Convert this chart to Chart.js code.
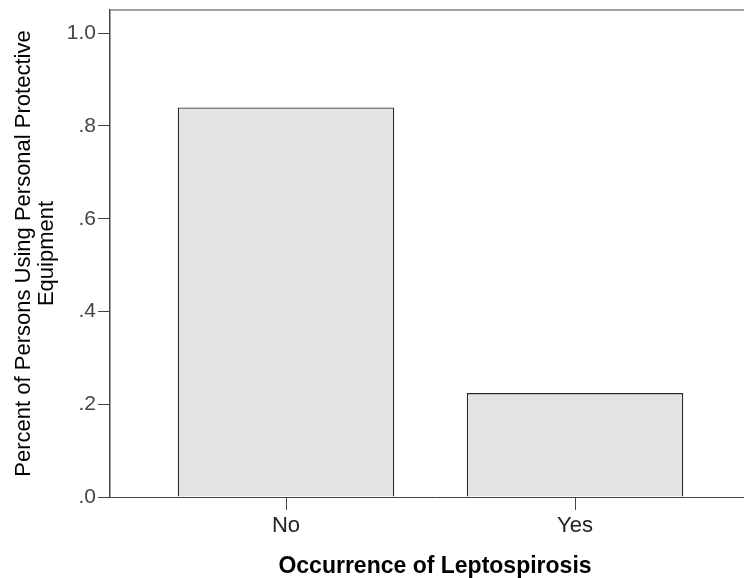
<!DOCTYPE html>
<html>
<head>
<meta charset="utf-8">
<script src="https://cdn.jsdelivr.net/npm/chart.js@4"></script>
<style>
  html, body { margin: 0; padding: 0; background: #fff; overflow: hidden; }
  #wrap { width: 744px; height: 578px; overflow: hidden; }
</style>
</head>
<body>
<div id="wrap"><canvas id="stage" width="760" height="578"></canvas></div>
<script>
const categories = ['No', 'Yes'];
const percentUsingPPE = [0.840, 0.224];
const yTickValues = [0, 0.2, 0.4, 0.6, 0.8, 1.0];
const yTickLabels = ['.0', '.2', '.4', '.6', '.8', '1.0'];

const fontFamily = '"Liberation Sans", Arial, sans-serif';
const axisColor = '#444';

// grey line along the top of the plot frame
const topFrame = {
  id: 'topFrame',
  afterDraw(chart) {
    const {ctx, chartArea} = chart;
    ctx.save();
    ctx.strokeStyle = '#858585';
    ctx.lineWidth = 1.5;
    ctx.beginPath();
    ctx.moveTo(chartArea.left, chartArea.top);
    ctx.lineTo(chartArea.right, chartArea.top);
    ctx.stroke();
    ctx.restore();
  }
};

new Chart(document.getElementById('stage'), {
  type: 'bar',
  data: {
    datasets: [{
      data: categories.map((c, i) => ({x: i, y: percentUsingPPE[i]})),
      backgroundColor: '#e3e3e3',
      borderColor: '#2a2a2a',
      borderWidth: 1.3,
      categoryPercentage: 1,
      barPercentage: 0.749
    }]
  },
  options: {
    responsive: false,
    animation: false,
    layout: { padding: { top: 10, left: 0, right: 0, bottom: 0 } },
    plugins: { legend: { display: false }, tooltip: { enabled: false } },
    scales: {
      x: {
        type: 'linear',
        offset: false,
        min: -0.609,
        max: 1.640,
        afterBuildTicks: s => { s.ticks = categories.map((c, i) => ({value: i})); },
        afterFit: s => { s.height = 81; },
        ticks: {
          callback: v => categories[v],
          color: '#222',
          font: { family: fontFamily, size: 22 },
          padding: 3,
          maxRotation: 0
        },
        grid: { offset: false, drawOnChartArea: false, tickLength: 13, color: axisColor },
        border: { color: axisColor, width: 1 },
        title: {
          display: true,
          text: 'Occurrence of Leptospirosis',
          color: '#000',
          font: { family: fontFamily, size: 23, weight: 'bold', lineHeight: 1 },
          padding: { top: 0, bottom: 0 }
        }
      },
      y: {
        min: 0,
        max: 1.050,
        afterBuildTicks: s => { s.ticks = yTickValues.map(v => ({value: v})); },
        afterFit: s => { s.width = 110; s.paddingTop = 0; s.paddingBottom = 0; },
        ticks: {
          callback: (v, i) => yTickLabels[i],
          color: '#444',
          font: { family: fontFamily, size: 21 },
          padding: 2
        },
        grid: { drawOnChartArea: false, tickLength: 12, color: axisColor },
        border: { color: axisColor, width: 1.5 },
        title: {
          display: true,
          text: ['Percent of Persons Using Personal Protective', 'Equipment'],
          color: '#000',
          font: { family: fontFamily, size: 22, lineHeight: 1.05 },
          padding: { top: 12, bottom: 0 }
        }
      }
    }
  },
  plugins: [topFrame]
});
</script>
</body>
</html>
